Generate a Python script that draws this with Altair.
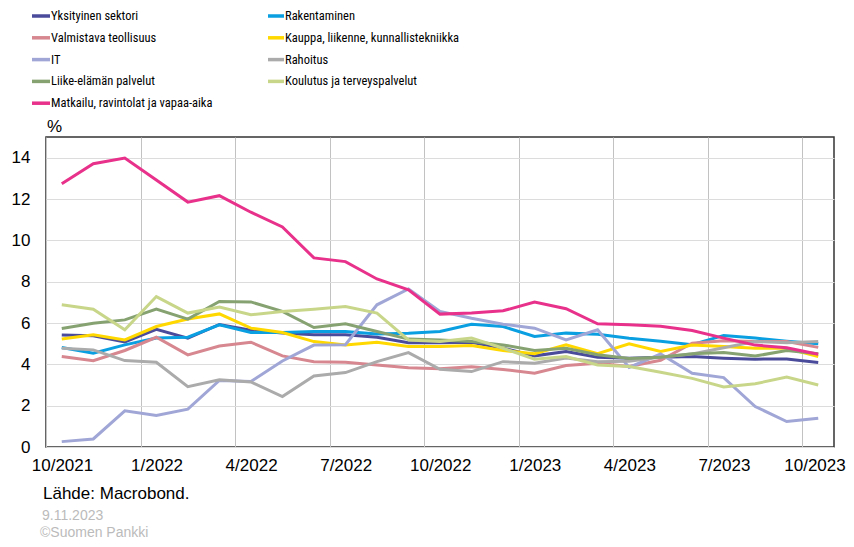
import altair as alt
import pandas as pd

# ---- data (monthly, 10/2021 .. 10/2023) ----
names = [
    "Yksityinen sektori", "Rakentaminen",
    "Valmistava teollisuus", "Kauppa, liikenne, kunnallistekniikka",
    "IT", "Rahoitus",
    "Liike-elämän palvelut", "Koulutus ja terveyspalvelut",
    "Matkailu, ravintolat ja vapaa-aika",
]
colors = ["#4B4B9B", "#0A9FE0", "#D6878F", "#FFD800", "#A0A6D6",
          "#ABABAB", "#86A271", "#C8D68A", "#E8318A"]

yksityinen = [5.42, 5.38, 5.08, 5.69, 5.27, 5.93, 5.65, 5.51, 5.43, 5.43, 5.31, 5.05, 5.05,
              5.07, 4.78, 4.41, 4.62, 4.34, 4.30, 4.34, 4.38, 4.30, 4.25, 4.26, 4.09]
rakentaminen = [4.81, 4.54, 4.94, 5.27, 5.31, 5.91, 5.54, 5.54, 5.59, 5.59, 5.47, 5.50, 5.59,
                5.94, 5.83, 5.35, 5.51, 5.45, 5.26, 5.12, 4.95, 5.40, 5.27, 5.12, 5.00]
valmistava = [4.38, 4.18, 4.67, 5.31, 4.46, 4.89, 5.07, 4.41, 4.13, 4.10, 3.97, 3.84, 3.79,
              3.88, 3.75, 3.57, 3.94, 4.05, 3.90, 4.20, 5.02, 5.14, 5.10, 5.10, 4.82]
kauppa = [5.23, 5.43, 5.18, 5.83, 6.19, 6.44, 5.75, 5.54, 5.10, 4.94, 5.07, 4.86, 4.86,
          4.91, 4.67, 4.51, 4.94, 4.51, 4.99, 4.62, 4.94, 4.86, 4.78, 4.78, 4.38]
it = [0.26, 0.39, 1.75, 1.52, 1.83, 3.22, 3.17, 4.16, 4.93, 4.95, 6.88, 7.65, 6.56,
      6.23, 5.94, 5.75, 5.18, 5.67, 3.85, 4.50, 3.57, 3.36, 1.96, 1.23, 1.39]
rahoitus = [4.78, 4.70, 4.18, 4.10, 2.92, 3.25, 3.15, 2.44, 3.44, 3.60, 4.13, 4.57, 3.76,
            3.65, 4.13, 4.05, 4.30, 4.13, 4.15, 4.35, 4.50, 4.80, 5.10, 5.05, 5.10]
liike = [5.73, 5.99, 6.15, 6.67, 6.19, 7.04, 7.02, 6.56, 5.78, 5.96, 5.59, 5.22, 5.18,
         5.10, 4.94, 4.67, 4.78, 4.46, 4.28, 4.34, 4.51, 4.57, 4.40, 4.67, 4.51]
koulutus = [6.88, 6.67, 5.67, 7.28, 6.48, 6.77, 6.40, 6.56, 6.67, 6.80, 6.48, 5.18, 5.10,
            5.27, 4.78, 4.25, 4.38, 3.97, 3.90, 3.62, 3.32, 2.90, 3.06, 3.38, 3.00]
matkailu = [12.74, 13.71, 13.98, 12.92, 11.85, 12.16, 11.36, 10.65, 9.15, 8.97, 8.13, 7.61, 6.43,
            6.48, 6.59, 7.01, 6.69, 5.96, 5.92, 5.84, 5.64, 5.27, 4.93, 4.80, 4.49]

series_values = [yksityinen, rakentaminen, valmistava, kauppa, it,
                 rahoitus, liike, koulutus, matkailu]
tick_labels = ["10/2021", "1/2022", "4/2022", "7/2022", "10/2022",
               "1/2023", "4/2023", "7/2023", "10/2023"]
notes = ["Lähde: Macrobond.", "9.11.2023", "©Suomen Pankki"]

# ---- tables ----
rows = []
for k, (nm, vals) in enumerate(zip(names, series_values)):
    for i, v in enumerate(vals):
        rows.append({"series": nm, "k": k, "m": i + 0.5, "v": v})
df = pd.DataFrame(rows)
leg_df = pd.DataFrame({"series": names, "k": list(range(len(names)))})

FONT = "Liberation Sans, Arial, sans-serif"
NARROW = "Roboto Condensed, Liberation Sans Narrow, Arial Narrow, Liberation Sans"

color_scale = alt.Scale(domain=names, range=colors)
label_expr = "[" + ",".join(f"'{t}'" for t in tick_labels) + "][round(datum.value/3)]"

lines = alt.Chart(df).mark_line(strokeWidth=3, strokeJoin="miter").encode(
    x=alt.X("m:Q", scale=alt.Scale(domain=[0, 25], nice=False, zero=False),
            axis=alt.Axis(values=list(range(0, 25, 3)), labelExpr=label_expr,
                          labelOffset={"condition": {"test": "datum.value >= 24", "value": 12},
                                       "value": 16},
                          grid=True, gridColor="#C2C2C2",
                          ticks=False, domain=False, title=None,
                          labelFontSize=17, labelPadding=10, labelColor="#000",
                          labelFont=FONT, labelFlush=False, labelOverlap=False)),
    y=alt.Y("v:Q", scale=alt.Scale(domain=[0, 15], nice=False),
            axis=alt.Axis(values=list(range(0, 15, 2)), grid=True, gridColor="#DCDCDC",
                          ticks=False, domain=False, title=None,
                          labelFontSize=17, labelPadding=16, labelColor="#000",
                          labelFont=FONT)),
    color=alt.Color("series:N", scale=color_scale, legend=None),
    detail="k:N",
    order="m:Q",
)

legend_base = alt.Chart(leg_df).transform_calculate(
    lx="datum.k % 2 == 0 ? -14 : 222",
    lx2="datum.k % 2 == 0 ? 4 : 238",
    tx="datum.k % 2 == 0 ? 5 : 239",
    ly="-121 + floor(datum.k / 2) * 21.8",
)
legend_rules = legend_base.mark_rule(strokeWidth=3.5).encode(
    x=alt.X("lx:Q", scale=None, axis=None),
    x2="lx2:Q",
    y=alt.Y("ly:Q", scale=None, axis=None),
    color=alt.Color("series:N", scale=color_scale, legend=None),
)
legend_text = legend_base.mark_text(align="left", baseline="middle", font=NARROW,
                                    fontSize=12.5, color="#000").encode(
    x=alt.X("tx:Q", scale=None, axis=None),
    y=alt.Y("ly:Q", scale=None, axis=None),
    text="series:N",
)

pct = alt.Chart(pd.DataFrame({"t": ["%"]})).mark_text(
    align="left", baseline="alphabetic", font=FONT, fontSize=17, color="#000"
).encode(x=alt.value(1), y=alt.value(-5), text="t:N")

note_df = pd.DataFrame({"t": notes, "j": [0, 1, 2]})
src = alt.Chart(note_df.iloc[[0]]).mark_text(
    align="left", baseline="middle", font=FONT, fontSize=17, color="#000"
).encode(x=alt.value(-3), y=alt.value(357), text="t:N")
date = alt.Chart(note_df.iloc[[1]]).mark_text(
    align="left", baseline="middle", font=FONT, fontSize=14, color="#BBBBBB"
).encode(x=alt.value(-4), y=alt.value(379), text="t:N")
copy = alt.Chart(note_df.iloc[[2]]).mark_text(
    align="left", baseline="middle", font=FONT, fontSize=14, color="#BBBBBB"
).encode(x=alt.value(-6), y=alt.value(396), text="t:N")

chart = alt.layer(lines, legend_rules, legend_text, pct, src, date, copy).properties(
    width=788, height=310,
    autosize=alt.AutoSizeParams(type="none"),
    padding={"left": 38, "top": 129, "right": 12, "bottom": 92},
).configure_view(stroke="#333333", strokeWidth=1.5)

chart.save("out.html", embed_options={"renderer": "svg", "actions": False})
